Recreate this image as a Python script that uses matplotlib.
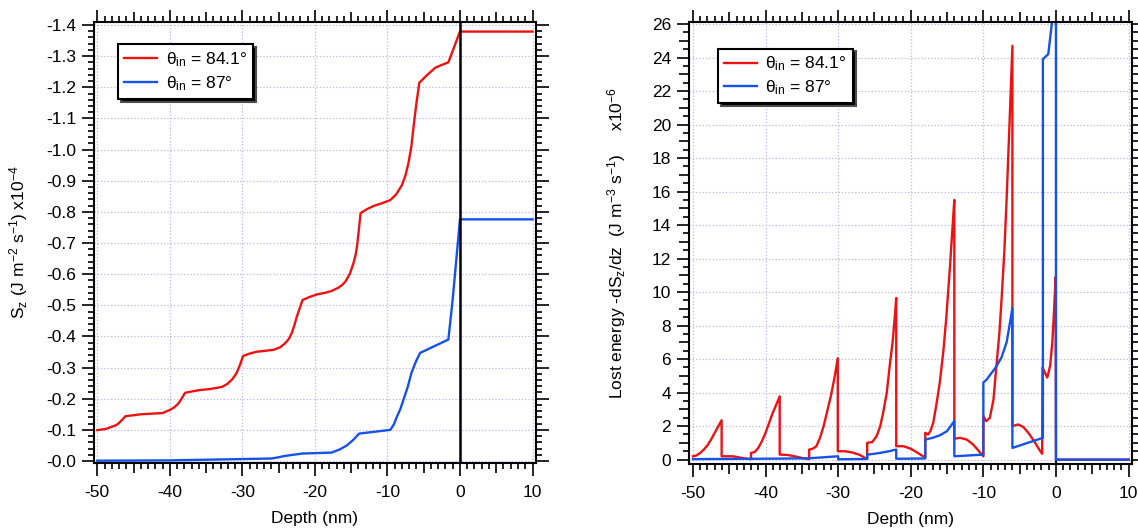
import numpy as np
import matplotlib
matplotlib.use("Agg")
import matplotlib.pyplot as plt
from matplotlib.ticker import MultipleLocator, FormatStrFormatter

plt.rcParams['font.family'] = ['Liberation Sans', 'DejaVu Sans']
plt.rcParams['mathtext.default'] = 'regular'
plt.rcParams['axes.unicode_minus'] = False
plt.rcParams['font.size'] = 12.5

RED = '#ec1212'
BLUE = '#1652e6'
labels = [r'$\theta_{in}$ = 84.1°', r'$\theta_{in}$ = 87°']

# left panel: Sz (x1e-4, plotted as negative values)
depth_l_red = [-50, -48.8, -48, -47.4, -47, -46.5, -46.1, -45, -44, -42.5, -41, -40, -39.4,
               -38.8, -38.3, -37.9, -36.8, -35.8, -34.5, -33.7, -32.8, -32.1, -31.4, -30.8,
               -30.3, -29.9, -29, -28, -26.8, -25.7, -24.8, -24.1, -23.6, -23.2, -22.8, -22.5,
               -22.1, -21.7, -20.7, -19.7, -18.6, -17.7, -16.8, -16.2, -15.8, -15.2, -14.7,
               -14.4, -14.2, -13.95, -13.7, -12.8, -11.9, -10.6, -9.6, -8.8, -8.0, -7.5, -7.1,
               -6.7, -6.4, -6.0, -5.6, -4.5, -3.4, -2.5, -1.6, 0, 10]
sz_red = [0.099, 0.103, 0.110, 0.115, 0.122, 0.134, 0.144, 0.147, 0.150, 0.152, 0.154, 0.164, 0.172,
          0.185, 0.203, 0.219, 0.224, 0.228, 0.231, 0.234, 0.238, 0.247, 0.262, 0.282,
          0.310, 0.337, 0.345, 0.351, 0.354, 0.357, 0.365, 0.378, 0.392, 0.410, 0.438, 0.463,
          0.490, 0.517, 0.527, 0.535, 0.540, 0.546, 0.556, 0.566, 0.576, 0.600, 0.634,
          0.660, 0.688, 0.740, 0.796, 0.809, 0.819, 0.829, 0.838, 0.856, 0.886, 0.918, 0.957,
          1.010, 1.073, 1.150, 1.215, 1.240, 1.263, 1.272, 1.280, 1.379, 1.379]

depth_l_blue = [-50, -40, -30.5, -26, -25, -24.2, -23, -21.7, -17.7, -16.5, -15.6, -14.7, -13.9,
                -9.6, -9.1, -8.7, -8.2, -7.8, -7.2, -6.7, -6.1, -5.5, -1.6, -1.0, 0, 10]
sz_blue = [0.001, 0.002, 0.006, 0.008, 0.012, 0.016, 0.020, 0.024, 0.027, 0.038, 0.050, 0.068, 0.088,
           0.100, 0.118, 0.142, 0.168, 0.196, 0.238, 0.282, 0.318, 0.347, 0.390, 0.520, 0.776, 0.776]

# right panel: lost energy (x1e-6)
depth_r_red = [-50, -49.5, -49, -48.5, -48, -47.5, -47, -46.5, -46.05, -46.05, -44.5, -43.5, -42.5, -42,
               -42, -41.5, -41, -40.5, -40, -39.5, -39, -38.5, -38.05, -38.05, -37, -36, -35, -34,
               -34, -33.5, -33, -32.5, -32, -31.5, -31, -30.5, -30.05, -30.05, -29, -28, -27,
               -26.3, -26, -26, -25.3, -24.7, -24.2, -23.8, -23.3, -22.9, -22.5, -22.2, -22.0,
               -22.0, -21, -20, -19.2, -18.5, -18, -18, -17.6, -17.3, -16.9, -16.5, -16.0,
               -15.5, -15.1, -14.6, -14.3, -14.0, -14.0, -13.2, -12.3, -11.4, -10.7, -10, -10,
               -9.6, -9.1, -8.6, -8.2, -7.8, -7.5, -7.1, -6.8, -6.4, -6.0, -6.0, -5.2, -4.5,
               -3.8, -3.0, -2.3, -1.9, -1.85, -1.2, -0.8, -0.5, -0.25, -0.05, 0, 10]
loss_red = [0.2, 0.25, 0.4, 0.6, 0.85, 1.2, 1.6, 2.0, 2.35, 0.2, 0.2, 0.12, 0.05, 0.02,
            0.4, 0.45, 0.7, 1.1, 1.6, 2.2, 2.8, 3.3, 3.78, 0.3, 0.28, 0.2, 0.1, 0.03,
            0.6, 0.65, 0.8, 1.3, 2.0, 2.9, 3.8, 4.9, 6.05, 0.5, 0.5, 0.42, 0.28,
            0.1, 0.06, 1.0, 1.05, 1.4, 2.0, 2.8, 4.0, 5.6, 7.0, 8.5, 9.65,
            0.8, 0.8, 0.65, 0.45, 0.25, 0.15, 1.6, 1.5, 1.7, 2.2, 3.2, 4.6,
            6.5, 8.5, 11.5, 13.5, 15.5, 1.25, 1.3, 1.2, 0.9, 0.55, 0.2, 2.6,
            2.3, 2.5, 3.6, 5.6, 7.5, 9.5, 12.5, 15.5, 20.0, 24.7, 2.0, 2.1, 1.95,
            1.6, 1.1, 0.6, 0.35, 5.5, 4.9, 5.6, 7.0, 9.0, 10.9, 0.0, 0.0]

depth_r_blue = [-50, -42, -38, -34, -30, -30, -26, -26, -25, -24, -23, -22, -22, -18, -18, -17,
                -16, -15, -14.5, -14, -14, -10, -10, -9.5, -9, -8.3, -7.5, -6.8, -6.4, -6, -6,
                -1.8, -1.8, -1.06, -0.6, 0, 0, 10]
loss_blue = [0.03, 0.05, 0.06, 0.08, 0.2, 0.02, 0.04, 0.3, 0.35, 0.42, 0.5, 0.6, 0.05, 0.07, 1.2, 1.3,
             1.45, 1.7, 2.0, 2.3, 0.2, 0.3, 4.6, 4.8, 5.1, 5.5, 6.1, 7.0, 8.0, 9.05, 0.7,
             1.3, 23.9, 24.2, 25.9, 28.0, 0.0, 0.0]


def style_axes(ax, ymajor, yminor, ymed=None):
    ax.xaxis.set_major_locator(MultipleLocator(10))
    ax.xaxis.set_minor_locator(MultipleLocator(1))
    ax.yaxis.set_major_locator(MultipleLocator(ymajor))
    ax.yaxis.set_minor_locator(MultipleLocator(yminor))
    ax.tick_params(which='both', direction='out', top=True, right=True, width=1.2)
    ax.tick_params(which='major', length=9, pad=4, labelsize=12.5)
    ax.tick_params(axis='x', which='major', pad=7)
    ax.tick_params(which='minor', length=4.5)
    for s in ax.spines.values():
        s.set_linewidth(1.5)
    ax.grid(True, which='major', color='#b8b8ea', linestyle=':', linewidth=0.9)
    ax.set_axisbelow(True)
    ax.set_xlabel('Depth (nm)', labelpad=8)
    # medium-length ticks, like the original
    for axis, step in ((ax.xaxis, 5), (ax.yaxis, ymed)):
        if step is None:
            continue
        for tick, loc in zip(axis.get_minor_ticks(), axis.get_minorticklocs()):
            if abs(loc / step - round(loc / step)) < 1e-6:
                tick.tick1line.set_markersize(7)
                tick.tick2line.set_markersize(7)


def add_legend(ax, x, y):
    leg = ax.legend(loc='upper left', bbox_to_anchor=(x, y), fancybox=False, framealpha=1,
                    edgecolor='black', handlelength=1.9, handletextpad=0.5, borderpad=0.35,
                    borderaxespad=0, labelspacing=0.3, fontsize=12.5,
                    shadow={'facecolor': 'black', 'alpha': 1.0, 'ox': 2, 'oy': -2})
    leg.get_frame().set_linewidth(1.5)


fig = plt.figure(figsize=(11.38, 5.31), dpi=100)

ax1 = fig.add_axes([0.0826, 0.128, 0.3884, 0.8305])
ax1.plot(depth_l_red, -np.array(sz_red), color=RED, lw=1.7, label=labels[0])
ax1.plot(depth_l_blue, -np.array(sz_blue), color=BLUE, lw=1.7, label=labels[1])
ax1.axvline(0, color='black', lw=1.8, zorder=3)
ax1.set_xlim(-50.45, 10.48)
ax1.set_ylim(0.0065, -1.4096)
ax1.yaxis.set_major_formatter(FormatStrFormatter('%.1f'))
style_axes(ax1, 0.1, 0.02)
ax1.set_ylabel(r'S$_z$ (J m$^{-2}$ s$^{-1}$) x10$^{-4}$')
ax1.yaxis.set_label_coords(-0.145, 0.5)
add_legend(ax1, 0.054, 0.95)

ax2 = fig.add_axes([0.6054, 0.1262, 0.3893, 0.8324])
ax2.axvline(0, color='black', lw=1.4, zorder=1.5)
ax2.plot(depth_r_red, loss_red, color=RED, lw=1.7, label=labels[0])
ax2.plot(depth_r_blue, loss_blue, color=BLUE, lw=1.7, label=labels[1])
ax2.set_xlim(-50.55, 10.47)
ax2.set_ylim(-0.26, 26.12)
style_axes(ax2, 2, 0.5, ymed=1)
ax2.set_ylabel(r'Lost energy -dS$_z$/dz  (J m$^{-3}$ s$^{-1}$)     x10$^{-6}$')
ax2.yaxis.set_label_coords(-0.138, 0.5)
add_legend(ax2, 0.065, 0.94)

fig.savefig('out.png', dpi=100)
